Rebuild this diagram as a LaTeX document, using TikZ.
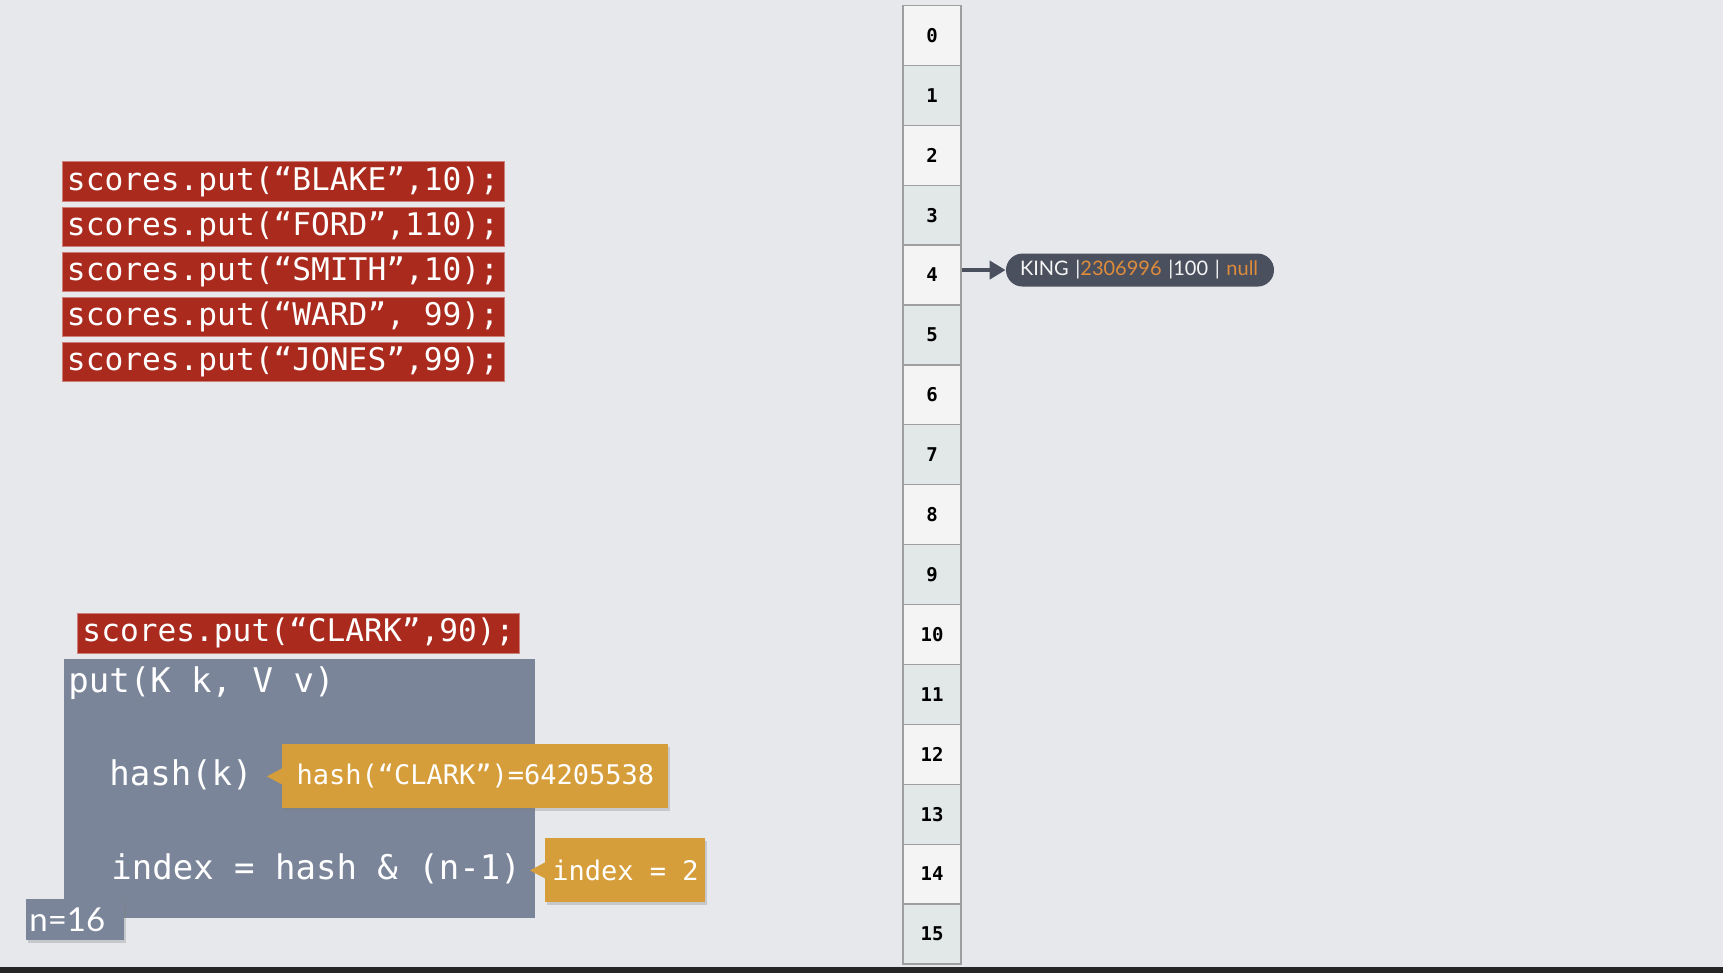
\documentclass[tikz,border=0pt]{standalone}
\usepackage{fontspec}
\setmainfont{Lato}
\setmonofont{DejaVu Sans Mono}
\usetikzlibrary{positioning, calc, arrows.meta, shadows}
\definecolor{putred}{RGB}{170, 42, 30}
\definecolor{slate}{RGB}{122, 133, 153}
\definecolor{tipgold}{RGB}{214, 158, 58}
\definecolor{cellA}{RGB}{244, 244, 244}
\definecolor{cellB}{RGB}{226, 231, 232}
\definecolor{nodedark}{RGB}{74, 80, 94}
\definecolor{keyorange}{RGB}{222, 140, 60}
\definecolor{bggray}{RGB}{230, 232, 236}

\begin{document}
\begin{tikzpicture}[x=0.5pt, y=-0.5pt,
  putbox/.style={fill=putred, draw=putred!60!white, line width=0.5pt, text=white, anchor=north west,
    font=\ttfamily\fontsize{15.6}{18}\selectfont, minimum width=221pt, minimum height=19.75pt, inner sep=0pt},
  codeline/.style={text=white, anchor=west, inner sep=0pt, font=\ttfamily\fontsize{17}{20}\selectfont},
  tipbox/.style={fill=tipgold, text=white, anchor=north west, minimum height=32pt, inner sep=0pt,
    font=\ttfamily\fontsize{13.5}{16}\selectfont, drop shadow={shadow xshift=1pt, shadow yshift=-1.5pt, opacity=0.3}},
  cell/.style={draw=gray!75, line width=0.6pt, minimum width=29pt, minimum height=29.95pt, inner sep=0pt,
    font=\ttfamily\bfseries\fontsize{9.5}{11}\selectfont},
  entry/.style={fill=nodedark, rounded corners=8.25pt, minimum height=16.5pt, text width=120pt, align=left,
    inner xsep=7pt, inner ysep=0pt, text=white!92!gray, font=\fontsize{10}{12}\selectfont}
]
  \useasboundingbox (0,0) rectangle (1723,973);
  \fill[bggray] (0,0) rectangle (1723,973);
  \fill[black!85] (0,967) rectangle (1723,973);

  % earlier calls
  \foreach \line [count=\k from 0] in {{scores.put(“BLAKE”,10);}, {scores.put(“FORD”,110);},
      {scores.put(“SMITH”,10);}, {scores.put(“WARD”, 99);}, {scores.put(“JONES”,99);}}
    \node[putbox] (put\k) at (61.5, 161.5+\k*45.1) {\line};

  % current call
  \node[putbox] (clark) at (77,613) {scores.put(“CLARK”,90);};
  \node[fill=slate, anchor=north west, minimum width=235.5pt, minimum height=129.5pt, inner sep=0pt] (putfn) at (64,659) {};
  \node[codeline] (sig) at (68,683) {put(K k, V v)};
  \node[codeline] (hashk) at (109,775) {hash(k)};
  \node[codeline] (idx) at (111,869) {index = hash \& (n-1)};
  \node[fill=slate, text=white, anchor=north west, minimum height=20.5pt, text width=46pt, align=left,
    inner xsep=1.5pt, inner ysep=0pt, font=\fontsize{16.5}{20}\selectfont,
    drop shadow={shadow xshift=1pt, shadow yshift=-1.5pt, opacity=0.3}] (nval) at (26,899) {n=16};

  % callouts
  \node[tipbox, minimum width=193pt] (hashtip) at (282,744) {hash(“CLARK”)=64205538};
  \fill[tipgold] ([yshift=4pt]hashtip.west) -- ([xshift=-7.5pt]hashtip.west) -- ([yshift=-4pt]hashtip.west) -- cycle;
  \node[tipbox, minimum width=80pt] (idxtip) at (545,838) {index = 2};
  \fill[tipgold] ([yshift=4pt]idxtip.west) -- ([xshift=-7.5pt]idxtip.west) -- ([yshift=-4pt]idxtip.west) -- cycle;

  % bucket array
  \foreach \i in {0,...,15} {
    \ifodd\i \def\cellcol{cellB}\else \def\cellcol{cellA}\fi
    \node[cell, fill=\cellcol] (c\i) at (932, 35.45+\i*59.9) {\i};
  }

  \node[entry, right=22pt of c4, yshift=2.5pt] (king) {KING |{\color{keyorange}2306996} |100 | {\color{keyorange}null}};
  \draw[-{Triangle[length=8pt, width=9pt]}, line width=2pt, nodedark] (c4.east |- king.west) -- (king.west);
\end{tikzpicture}
\end{document}
